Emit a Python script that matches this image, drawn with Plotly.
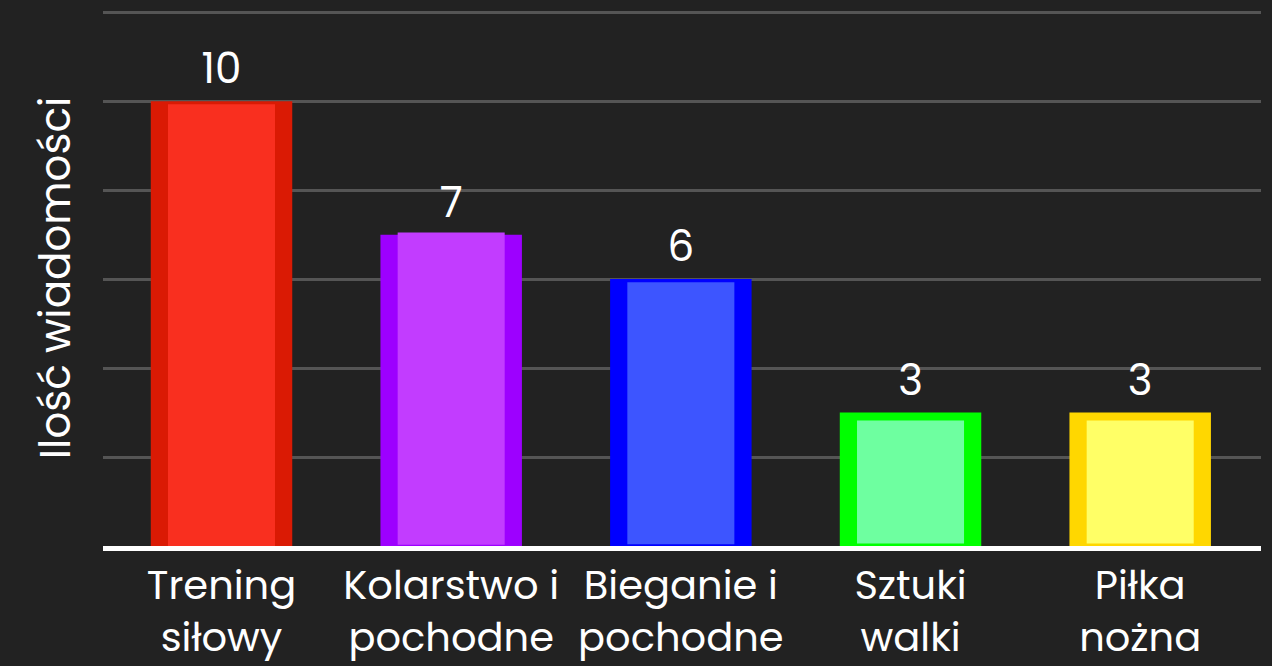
import plotly.graph_objects as go

categories = ["Trening<br>siłowy", "Kolarstwo i<br>pochodne", "Bieganie i<br>pochodne", "Sztuki<br>walki", "Piłka<br>nożna"]
values = [10, 7, 6, 3, 3]
inner_values = [9.93, 7.05, 5.93, 2.82, 2.82]
inner_base = [0.0, 0.03, 0.04, 0.055, 0.055]
outer_colors = ["#DA1A04", "#9D00FF", "#0000FF", "#00FF00", "#FFD700"]
inner_colors = ["#F92F1F", "#C23CFF", "#3D55FF", "#6EFFA0", "#FFFF66"]
y_title = "Ilość wiadomości"

FONT = "Poppins, Lato, 'Open Sans', sans-serif"

fig = go.Figure()
fig.add_trace(go.Bar(
    x=categories, y=values, width=0.616,
    marker=dict(color=outer_colors, line=dict(width=0)),
    text=[str(v) for v in values], textposition="outside",
    textfont=dict(color="white", size=42, family=FONT),
    cliponaxis=False, hoverinfo="skip", showlegend=False,
))
fig.add_trace(go.Bar(
    x=categories, y=[v - b for v, b in zip(inner_values, inner_base)], base=inner_base,
    width=0.466,
    marker=dict(color=inner_colors, line=dict(width=0)),
    hoverinfo="skip", showlegend=False,
))

fig.update_layout(
    barmode="overlay",
    width=1272, height=666,
    paper_bgcolor="#222222", plot_bgcolor="#222222",
    margin=dict(l=103, r=11, t=10, b=120),
    font=dict(family=FONT, color="white", size=40),
    xaxis=dict(
        range=[-0.516, 4.526], showgrid=False, zeroline=False,
        showline=True, linecolor="white", linewidth=5,
        tickfont=dict(size=40, color="white", family=FONT),
        ticks="", layer="above traces", automargin=False,
    ),
    yaxis=dict(
        range=[0, 12.05], tickvals=[2, 4, 6, 8, 10, 12], showgrid=True,
        gridcolor="#555555", gridwidth=2.5,
        zeroline=False, showticklabels=False, ticks="", automargin=False,
        title=dict(text=y_title, font=dict(size=42, color="white", family=FONT), standoff=18),
    ),
    bargap=0.38,
)

fig.write_html(
    "out.html",
    config={"displayModeBar": False},
    post_script="document.body.style.margin='0';document.body.style.background='#222222';",
)
